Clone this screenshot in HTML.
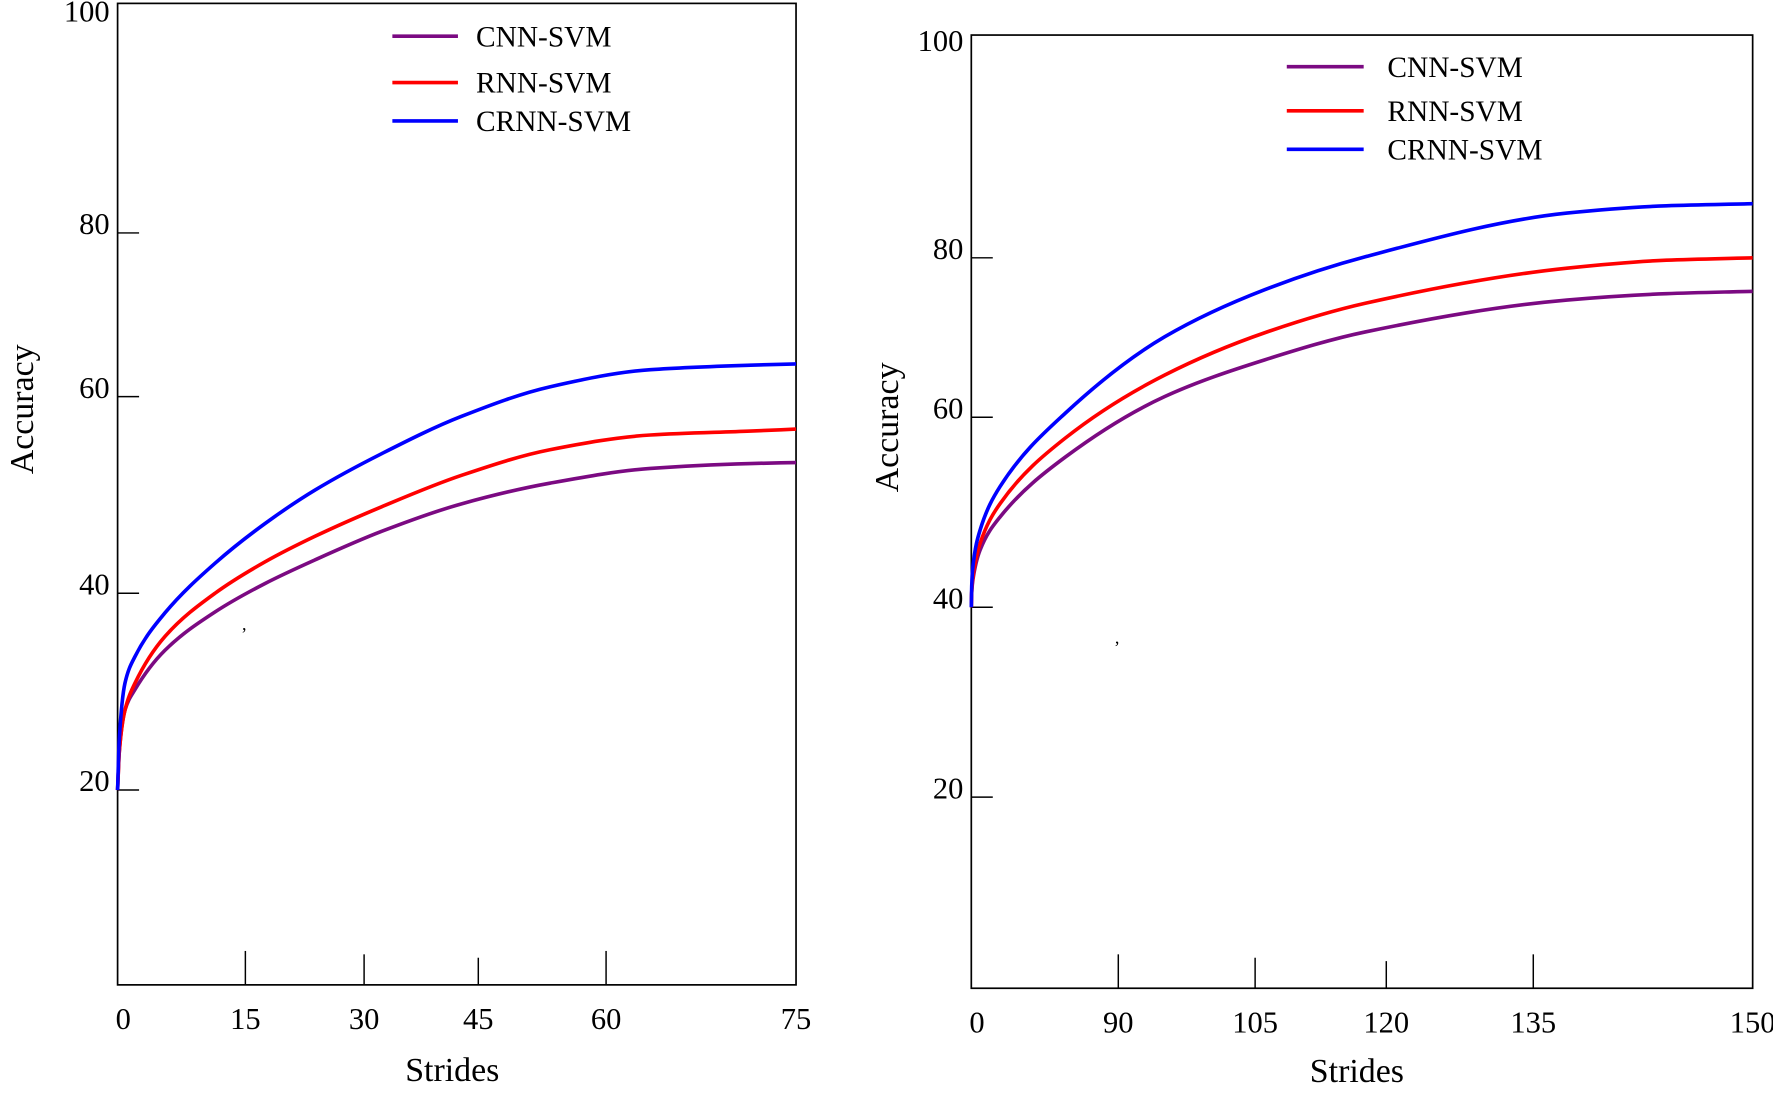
<!DOCTYPE html>
<html><head><meta charset="utf-8"><style>
html,body{margin:0;padding:0;background:#fff}
svg{display:block}
text{font-family:"Liberation Serif",serif;fill:#000}
</style></head><body>
<svg id="chart" width="1773" height="1095" viewBox="0 0 1568 968.4" preserveAspectRatio="none" xmlns="http://www.w3.org/2000/svg"></svg>
<script>
// ---- Left chart data ----
const leftX = [0, 0.2, 0.86, 2.03, 5.55, 11.43, 17.49, 23.8, 32.3, 42.8, 53.4, 63.5, 71.4, 75];
const leftCNN = [20, 23.9, 28.1, 30.2, 34.2, 38.1, 41.0, 43.4, 46.3, 49.1, 51.2, 52.7, 53.2, 53.3];
const leftRNN = [20, 23.9, 28.1, 30.85, 35.6, 40.0, 43.2, 45.8, 48.8, 52.0, 54.6, 56.1, 56.5, 56.7];
const leftCRNN = [20, 25.2, 30.85, 33.55, 38.0, 43.05, 47.1, 50.5, 54.2, 58.0, 61.2, 63.3, 63.85, 64.0];
const leftXTicks = [0, 15, 30, 45, 60, 75];
const leftYTicks = [20, 40, 60, 80, 100];
// ---- Right chart data ----
const rightX = [0, 0.25, 1.0, 5.33, 17.6, 57.5, 95.1, 106.1, 117.6, 137.3, 144.1, 150];
const rightCNN = [40, 41.5, 42.9, 46.0, 49.5, 55.8, 62.6, 67.2, 70.7, 74.7, 75.5, 75.8];
const rightRNN = [40, 41.6, 43.2, 46.7, 50.9, 57.8, 65.3, 70.6, 74.3, 78.7, 79.7, 80.0];
const rightCRNN = [40, 42.2, 44.3, 48.1, 52.7, 60.5, 70.1, 76.0, 80.1, 84.3, 85.0, 85.2];
const rightXTicks = [0, 90, 105, 120, 135, 150];
const rightYTicks = [20, 40, 60, 80, 100];
const seriesNames = ["CNN-SVM", "RNN-SVM", "CRNN-SVM"];
const seriesColors = ["#7b0a82", "#ff0000", "#0000ff"];

const NS = "http://www.w3.org/2000/svg";
const svg = document.getElementById("chart");
function mk(tag, attrs, parent) {
  const e = document.createElementNS(NS, tag);
  for (const k in attrs) e.setAttribute(k, attrs[k]);
  (parent || svg).appendChild(e);
  return e;
}
function piece(domain, range) {
  return v => {
    for (let i = 0; i < domain.length - 1; i++) {
      if (v <= domain[i + 1] || i === domain.length - 2) {
        const t = (v - domain[i]) / (domain[i + 1] - domain[i]);
        return range[i] + t * (range[i + 1] - range[i]);
      }
    }
  };
}
// monotone cubic (Fritsch-Carlson) in pixel space
function smoothPath(pts) {
  const n = pts.length, dx = [], s = [], m = [];
  for (let i = 0; i < n - 1; i++) { dx[i] = pts[i + 1][0] - pts[i][0]; s[i] = (pts[i + 1][1] - pts[i][1]) / dx[i]; }
  m[0] = s[0]; m[n - 1] = s[n - 2];
  for (let i = 1; i < n - 1; i++) {
    if (s[i - 1] * s[i] <= 0) m[i] = 0;
    else { const w1 = 2 * dx[i] + dx[i - 1], w2 = dx[i] + 2 * dx[i - 1]; m[i] = (w1 + w2) / (w1 / s[i - 1] + w2 / s[i]); }
  }
  let d = "M" + pts[0][0].toFixed(2) + "," + pts[0][1].toFixed(2);
  for (let i = 0; i < n - 1; i++) {
    const h = dx[i] / 3;
    d += "C" + (pts[i][0] + h).toFixed(2) + "," + (pts[i][1] + m[i] * h).toFixed(2) + " " +
      (pts[i + 1][0] - h).toFixed(2) + "," + (pts[i + 1][1] - m[i + 1] * h).toFixed(2) + " " +
      pts[i + 1][0].toFixed(2) + "," + pts[i + 1][1].toFixed(2);
  }
  return d;
}

function drawChart(cfg) {
  const g = mk("g", {});
  
  
  const xs = piece(cfg.xTicks, cfg.xPix);
  const ys = piece(cfg.yTicks, cfg.yPix);
  const fr = mk("rect", {x: cfg.box[0], y: cfg.box[1], width: cfg.box[2] - cfg.box[0], height: cfg.box[3] - cfg.box[1], fill: "none", stroke: "#000", "stroke-width": 1.5}, g);
  
  
  cfg.xTicks.forEach((t, i) => {
    const x = xs(t);
    if (i > 0 && i < cfg.xTicks.length - 1) {
      const tl = mk("line", {x1: x, x2: x, y1: cfg.box[3], y2: cfg.box[3] - cfg.tickLen[i], stroke: "#000", "stroke-width": 1.3}, g);
      
      
    }
    const lb = mk("text", {x: x + (i === 0 ? 5 : 0), y: cfg.box[3] + 39, "font-size": 27, "text-anchor": "middle"}, g);
    lb.textContent = t;
    
    
  });
  cfg.yTicks.forEach(t => {
    const y = ys(t);
    if (t < 100) {
      const tl = mk("line", {x1: cfg.box[0], x2: cfg.box[0] + 19, y1: y, y2: y, stroke: "#000", "stroke-width": 1.3}, g);
      
      
    }
    const lb = mk("text", {x: cfg.box[0] - 7, y: y + 1, "font-size": 27, "text-anchor": "end"}, g);
    lb.textContent = t;
    
    
  });
  cfg.series.forEach((vals, si) => {
    const pts = cfg.x.map((xv, i) => [xs(xv), ys(vals[i])]);
    const p = mk("path", {d: smoothPath(pts), fill: "none", stroke: seriesColors[si], "stroke-width": 3.2, "stroke-linejoin": "round"}, g);
    
    
  });
  cfg.legendY.forEach((ly, i) => {
    const l = mk("line", {x1: cfg.legendX, x2: cfg.legendX + cfg.legendW, y1: ly, y2: ly, stroke: seriesColors[i], "stroke-width": 3.2}, g);
    
    
    const tx = mk("text", {x: cfg.legendText, y: ly + 9, "font-size": 26}, g);
    tx.textContent = seriesNames[i];
    
    
  });
  const yt = mk("text", {x: 0, y: 0, "font-size": 30, "text-anchor": "middle", transform: "translate(" + cfg.yTitle[0] + "," + cfg.yTitle[1] + ") rotate(-90)"}, g);
  yt.textContent = "Accuracy";
  
  
  const xt = mk("text", {x: cfg.xTitle[0], y: cfg.xTitle[1], "font-size": 30, "text-anchor": "middle"}, g);
  xt.textContent = "Strides";
  
  
  const c = mk("text", {x: cfg.comma[0], y: cfg.comma[1], "font-size": 16}, g);
  c.textContent = ",";
  
  
}

drawChart({
  name: "left-chart", box: [104, 3, 704, 871],
  x: leftX, series: [leftCNN, leftRNN, leftCRNN],
  xTicks: leftXTicks, xPix: [104, 217, 322, 423, 536, 704], tickLen: [0, 30, 27, 24, 30, 0],
  yTicks: leftYTicks, yPix: [698.7, 524.7, 350.8, 206, 18],
  legendX: 347, legendW: 58, legendText: 421, legendY: [32, 73, 107],
  yTitle: [29, 362], xTitle: [400, 956], comma: [214, 557]
});
drawChart({
  name: "right-chart", box: [859, 31, 1550, 874],
  x: rightX, series: [rightCNN, rightRNN, rightCRNN],
  xTicks: rightXTicks, xPix: [859, 989, 1110, 1226, 1356, 1550], tickLen: [0, 30, 27, 24, 30, 0],
  yTicks: rightYTicks, yPix: [705, 537, 369, 228, 44],
  legendX: 1138, legendW: 68, legendText: 1227, legendY: [59, 98, 132],
  yTitle: [794, 378], xTitle: [1200, 957], comma: [986, 569]
});
</script>
</body></html>
